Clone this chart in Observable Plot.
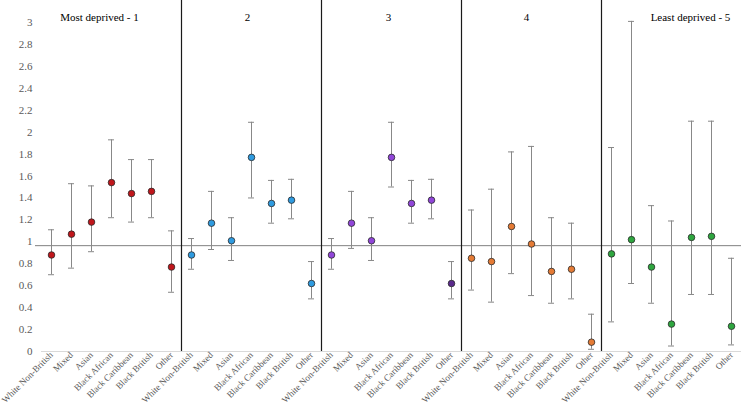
<!DOCTYPE html>
<html><head><meta charset="utf-8">
<script src="https://cdn.jsdelivr.net/npm/d3@7"></script>
<script src="https://cdn.jsdelivr.net/npm/@observablehq/plot@0.6"></script>
<style>body{margin:0;background:#fff} #chart svg text{font-family:'Times New Roman','Liberation Serif',Times,'DejaVu Serif',serif !important}</style>
</head><body><div id="chart"></div>
<script>
const categories = ["White Non-British","Mixed","Asian","Black African","Black Caribbean","Black British","Other"];
const panels = ["Most deprived - 1","2","3","4","Least deprived - 5"];
const estimates = [
  [0.88, 1.07, 1.18, 1.54, 1.44, 1.46, 0.77],
  [0.88, 1.17, 1.01, 1.77, 1.35, 1.38, 0.62],
  [0.88, 1.17, 1.01, 1.77, 1.35, 1.38, 0.62],
  [0.85, 0.82, 1.14, 0.98, 0.73, 0.75, 0.085],
  [0.89, 1.02, 0.77, 0.25, 1.04, 1.05, 0.23]
];
const lowers = [
  [0.70, 0.76, 0.91, 1.22, 1.18, 1.22, 0.54],
  [0.75, 0.93, 0.83, 1.40, 1.17, 1.21, 0.48],
  [0.75, 0.94, 0.83, 1.50, 1.17, 1.21, 0.48],
  [0.56, 0.45, 0.71, 0.51, 0.44, 0.48, 0.02],
  [0.27, 0.62, 0.44, 0.05, 0.52, 0.52, 0.06]
];
const uppers = [
  [1.11, 1.53, 1.51, 1.93, 1.75, 1.75, 1.10],
  [1.03, 1.46, 1.22, 2.09, 1.56, 1.57, 0.82],
  [1.03, 1.46, 1.22, 2.09, 1.56, 1.57, 0.82],
  [1.29, 1.48, 1.82, 1.87, 1.22, 1.17, 0.34],
  [1.86, 3.01, 1.33, 1.19, 2.10, 2.10, 0.85]
];
const panelColors = ["#c0161b","#2f9be0","#9146d9","#e57b35","#2ea63f"];
const pointColors = [null, null, [null,null,null,null,null,null,"#5b2a8c"], null, null];
const referenceValue = 0.965;
const yTicks = d3.range(0, 16).map(i => +(i * 0.2).toFixed(1));
const titleDx = [-12, -4, -3, -5, 19];

const FONT = "'Times New Roman', 'Liberation Serif', Times, 'DejaVu Serif', serif";
const keyOf = (p, c) => p + "|" + c;
const rows = [];
panels.forEach((p, pi) => categories.forEach((c, ci) => rows.push({
  key: keyOf(pi, c), cat: c, panel: p,
  est: estimates[pi][ci], lo: lowers[pi][ci], hi: uppers[pi][ci],
  color: (pointColors[pi] && pointColors[pi][ci]) || panelColors[pi]
})));
const domain = rows.map(d => d.key);
const separators = panels.slice(0, -1).map((p, pi) => keyOf(pi, "Other"));
const titleMarks = panels.map((p, pi) => Plot.text([{key: keyOf(pi, "Black African"), text: p}], {
  x: "key", y: () => 3, text: "text", dx: titleDx[pi], dy: -5, fontSize: 11, fill: "#000", fontFamily: FONT
}));

const chart = Plot.plot({
  width: 743, height: 412,
  marginLeft: 41, marginRight: 2, marginTop: 22, marginBottom: 61,
  style: {fontFamily: FONT, background: "#fff"},
  x: {type: "band", domain, padding: 0, axis: null, label: null},
  y: {domain: [0, 3], axis: null, label: null},
  marks: [
    Plot.ruleY([0], {stroke: "#d9d9d9", strokeWidth: 1}),
    Plot.axisY(yTicks, {tickSize: 0, tickPadding: 9, fontSize: 11, fill: "#595959", fontFamily: FONT, label: null, tickFormat: d => String(d)}),
    Plot.axisX({tickSize: 0, tickPadding: 2, tickRotate: -45, fontSize: 9.1, fill: "#595959", fontFamily: FONT, label: null, tickFormat: k => k.split("|")[1]}),
    Plot.ruleY([referenceValue], {stroke: "#808080", strokeWidth: 1, insetLeft: -6}),
    Plot.ruleX(separators, {x: d => d, dx: 10, stroke: "#1a1a1a", strokeWidth: 1.2, insetTop: -22}),
    Plot.ruleX(rows, {x: "key", y1: "lo", y2: "hi", stroke: "#888", strokeWidth: 1}),
    Plot.tickY(rows, {x: "key", y: "lo", stroke: "#888", strokeWidth: 1, insetLeft: 7, insetRight: 7}),
    Plot.tickY(rows, {x: "key", y: "hi", stroke: "#888", strokeWidth: 1, insetLeft: 7, insetRight: 7}),
    Plot.dot(rows, {x: "key", y: "est", r: 3.3, fill: "color", stroke: "#2a2a2a", strokeWidth: 0.8}),
    ...titleMarks
  ]
});
document.getElementById("chart").append(chart);
</script>
</body></html>
